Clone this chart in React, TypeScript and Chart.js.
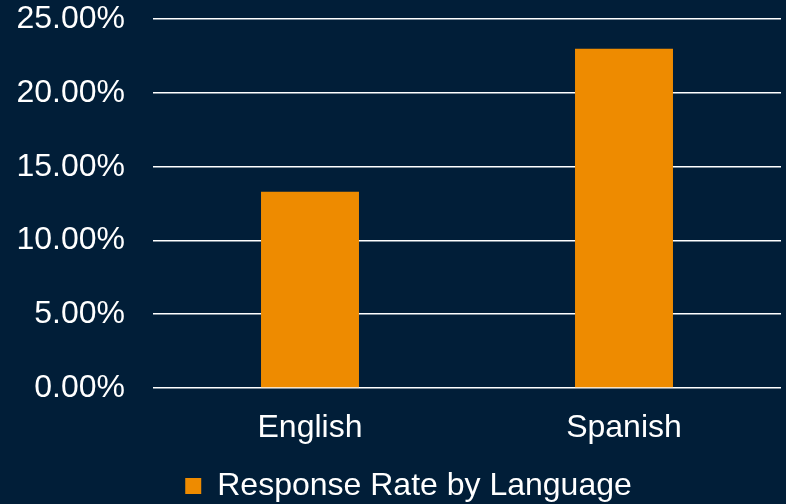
import React, { useEffect, useRef } from "react";
import { Chart, registerables } from "chart.js";

Chart.register(...registerables);

const categories = ["English", "Spanish"];
const responseRates = [13.3, 23.0];
const seriesLabel = "Response Rate by Language";
const yMax = 25;
const yStep = 5;

const BG = "#011e38";
const BAR = "#ee8b00";

export default function App() {
  const ref = useRef<HTMLCanvasElement | null>(null);

  useEffect(() => {
    document.body.style.margin = "0";
    document.body.style.background = BG;
    const canvas = ref.current!;
    const font = { family: "'Liberation Sans', Arial, sans-serif", size: 32 };
    const bgPlugin = {
      id: "bg",
      beforeDraw(chart: any) {
        const { ctx, width, height } = chart;
        ctx.save();
        ctx.fillStyle = BG;
        ctx.fillRect(0, 0, width, height);
        ctx.restore();
      },
    };
    const legendShift = {
      id: "legendShift",
      afterLayout(chart: any) {
        const l = chart.legend;
        if (l) {
          l.left += 18;
          l.right += 18;
        }
      },
    };
    const chart = new Chart(canvas, {
      type: "bar",
      data: {
        labels: categories,
        datasets: [
          {
            label: seriesLabel,
            data: responseRates,
            backgroundColor: BAR,
            borderWidth: 0,
            barPercentage: 0.312,
            categoryPercentage: 1,
          },
        ],
      },
      options: {
        responsive: false,
        animation: false,
        layout: { padding: { top: 0, right: 5, left: 0, bottom: -8 } },
        plugins: {
          tooltip: { enabled: false },
          legend: {
            position: "bottom",
            labels: {
              color: "#ffffff",
              font,
              boxWidth: 16,
              boxHeight: 16,
              padding: 0,
            },
          },
        },
        scales: {
          x: {
            grid: { display: false },
            border: { display: false },
            ticks: { color: "#ffffff", font, padding: 13 },
            afterFit(scale: any) {
              scale.height = 82;
            },
          },
          y: {
            min: 0,
            max: yMax,
            ticks: {
              stepSize: yStep,
              color: "#ffffff",
              font,
              padding: 0,
              callback: (v: any) => Number(v).toFixed(2) + "%",
            },
            grid: {
              color: "#ffffff",
              lineWidth: 1.5,
              drawTicks: true,
              tickLength: 28,
              tickColor: "rgba(0,0,0,0)",
            },
            border: { display: false },
            afterFit(scale: any) {
              scale.width = 153;
            },
          },
        },
      },
      plugins: [bgPlugin, legendShift],
    });
    return () => chart.destroy();
  }, []);

  return (
    <div style={{ position: "fixed", left: 0, top: 0, width: 786, height: 504, background: BG }}>
      <canvas ref={ref} width={786} height={504} style={{ display: "block" }} />
    </div>
  );
}
